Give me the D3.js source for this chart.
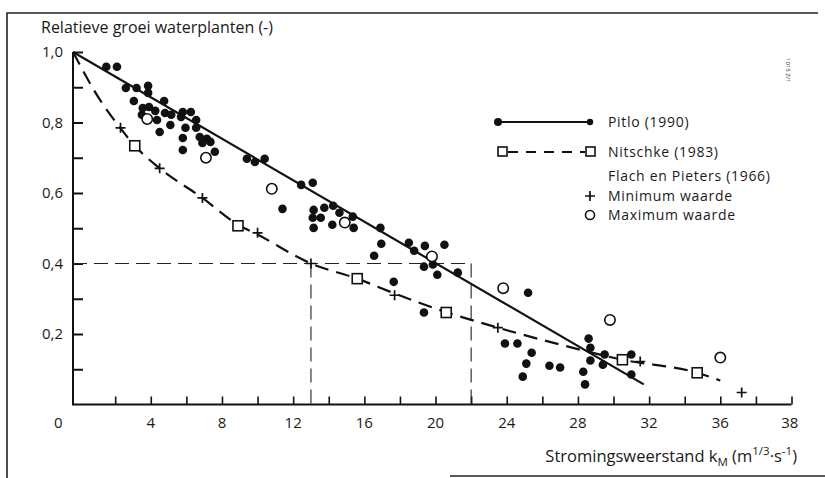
<!DOCTYPE html>
<html>
<head>
<meta charset="utf-8">
<script src="https://cdn.jsdelivr.net/npm/d3@7"></script>
<style>
  body { margin: 0; background: #fff; }
  svg text { font-family: "Open Sans", "Noto Sans", sans-serif; fill: #1a1a1a; }
</style>
</head>
<body>
<div id="chart"></div>
<script>
// Pitlo (1990) meetpunten (k_M, relatieve groei)
const pitloK = [1.5, 2.1, 2.6, 3.2, 3.85, 3.85, 3.05, 4.75, 3.55, 3.9, 4.25, 4.8, 5.15, 5.8, 6.25, 3.5, 4.35, 5.7, 6.55, 5.95,
  4.5, 5.1, 6.55, 5.8, 6.75, 7.15, 5.8, 6.9, 7.35, 7.6, 9.4, 9.85, 10.4, 12.45, 13.1, 11.4, 13.15, 13.75, 14.25, 14.6,
  13.1, 13.55, 14.2, 13.15, 15.35, 15.4, 16.9, 16.95, 16.55, 18.5, 18.8, 19.4, 20.5, 19.35, 19.85, 20.1, 21.25, 17.65, 19.35,
  25.2, 23.9, 24.6, 25.4, 25.1, 24.9, 26.4, 27.0, 28.6, 28.7, 28.7, 28.3, 28.4, 29.5, 29.4, 31.0, 31.0];
const pitloG = [0.958, 0.958, 0.898, 0.898, 0.904, 0.884, 0.861, 0.861, 0.841, 0.844, 0.833, 0.827, 0.822, 0.830, 0.830, 0.822, 0.807, 0.816, 0.807, 0.785,
  0.773, 0.793, 0.785, 0.756, 0.759, 0.754, 0.722, 0.742, 0.745, 0.717, 0.697, 0.688, 0.697, 0.623, 0.629, 0.555, 0.552, 0.558, 0.564, 0.544,
  0.530, 0.530, 0.510, 0.501, 0.533, 0.501, 0.501, 0.456, 0.422, 0.459, 0.436, 0.450, 0.453, 0.391, 0.397, 0.368, 0.374, 0.348, 0.261,
  0.317, 0.173, 0.173, 0.147, 0.116, 0.079, 0.110, 0.105, 0.187, 0.161, 0.125, 0.093, 0.057, 0.142, 0.113, 0.142, 0.085];
// Pitlo regressielijn (begin- en eindpunt)
const pitloLineK = [-0.37, 31.7];
const pitloLineG = [1.0, 0.057];

// Nitschke (1983): curve en blokjes
const nitschkeCurveK = [-0.37, 1.15, 2.2, 3.1, 4.5, 6.9, 8.9, 10.0, 13.0, 15.6, 17.7, 20.6, 23.5, 27.0, 30.5, 34.7, 36.0];
const nitschkeCurveG = [1.0, 0.864, 0.79, 0.734, 0.67, 0.586, 0.51, 0.482, 0.40, 0.357, 0.315, 0.262, 0.218, 0.17, 0.127, 0.09, 0.068];
const nitschkeK = [3.1, 8.9, 15.6, 20.6, 30.5, 34.7];
const nitschkeG = [0.734, 0.507, 0.357, 0.261, 0.127, 0.09];

// Flach en Pieters (1966)
const flachMinK = [2.3, 4.5, 6.9, 10.0, 13.0, 17.7, 23.5, 31.5, 37.2];
const flachMinG = [0.785, 0.67, 0.586, 0.487, 0.40, 0.31, 0.218, 0.122, 0.034];
const flachMaxK = [3.8, 7.1, 10.8, 14.9, 19.8, 23.8, 29.8, 36.0];
const flachMaxG = [0.81, 0.70, 0.612, 0.516, 0.42, 0.33, 0.24, 0.133];

// Hulplijnen bij groei 0,4
const guideG = 0.4;
const guideK = [13, 22];

// As-labels
const yTickValues = [0.1, 0.2, 0.3, 0.4, 0.5, 0.6, 0.7, 0.8, 0.9, 1.0];
const yTickLabels = ["1,0", "0,8", "0,6", "0,4", "0,2"];
const yTickLabelAt = [1.0, 0.8, 0.6, 0.4, 0.2];
const xTickValues = d3.range(2, 41, 2);
const xTickLabels = ["0", "4", "8", "12", "16", "20", "24", "28", "32", "36", "38"];
const xTickLabelAt = [-1.2, 4, 8, 12, 16, 20, 24, 28, 32, 36, 39.9];

const width = 825, height = 478;

const svg = d3.select('#chart')
  .append('svg')
  .attr('width', width)
  .attr('height', height);

const x = d3.scaleLinear().domain([-0.37, 40]).range([73, 791.5]);
const y = d3.scaleLinear().domain([0, 1]).range([404.5, 52]);

// Kader van de figuur (boven, links en een stuk onder)
svg.append('path')
  .attr('d', `M7,478 L7,13 L818,13`)
  .attr('fill', 'none').attr('stroke', '#222').attr('stroke-width', 1.6);
svg.append('line')
  .attr('x1', 450).attr('x2', 825).attr('y1', 476).attr('y2', 476)
  .attr('stroke', '#222').attr('stroke-width', 1.4);

// Assen
svg.append('path')
  .attr('d', `M${x(-0.37)},${y(1)} L${x(-0.37)},${y(0)} L${x(40)},${y(0)}`)
  .attr('fill', 'none').attr('stroke', '#111').attr('stroke-width', 2);

const yAxis = d3.axisRight(y).tickValues(yTickValues).tickSize(10).tickFormat('');
svg.append('g')
  .attr('transform', `translate(${x(-0.37)},0)`)
  .call(yAxis)
  .call(g => g.select('.domain').remove())
  .call(g => g.selectAll('.tick line').attr('stroke', '#111').attr('stroke-width', 2));

const xAxis = d3.axisTop(x).tickValues(xTickValues).tickSize(8).tickFormat('');
svg.append('g')
  .attr('transform', `translate(0,${y(0)})`)
  .call(xAxis)
  .call(g => g.select('.domain').remove())
  .call(g => g.selectAll('.tick line').attr('stroke', '#111').attr('stroke-width', 1.6));

// Y tick labels
svg.selectAll('.ylab')
  .data(yTickLabels)
  .enter().append('text')
  .attr('x', 63)
  .attr('y', (d, i) => y(yTickLabelAt[i]))
  .attr('dy', '0.35em')
  .attr('text-anchor', 'end')
  .style('font-size', '15px')
  .text(d => d);

// X tick labels
svg.selectAll('.xlab')
  .data(xTickLabels)
  .enter().append('text')
  .attr('x', (d, i) => x(xTickLabelAt[i]))
  .attr('y', 428)
  .attr('text-anchor', 'middle')
  .style('font-size', '15px')
  .text(d => d);

// Astitels
svg.append('text')
  .attr('x', 41).attr('y', 33)
  .style('font-size', '16px')
  .text('Relatieve groei waterplanten (-)');

const xt = svg.append('text')
  .attr('x', 797).attr('y', 462)
  .attr('text-anchor', 'end')
  .style('font-size', '16.5px');
xt.append('tspan').text('Stromingsweerstand k');
xt.append('tspan').attr('dy', 4).style('font-size', '11.5px').text('M');
xt.append('tspan').attr('dy', -4).text(' (m');
xt.append('tspan').attr('dy', -7).style('font-size', '11.5px').text('1/3');
xt.append('tspan').attr('dy', 7).text('·s');
xt.append('tspan').attr('dy', -7).style('font-size', '11.5px').text('-1');
xt.append('tspan').attr('dy', 7).text(')');

// kleine verticale code rechtsboven
svg.append('text')
  .attr('transform', 'translate(786,58) rotate(90)')
  .style('font-size', '6px')
  .text('1015 Z/1');

// Hulplijnen (gestreept, dun)
const guide = svg.append('g')
  .attr('fill', 'none').attr('stroke', '#222').attr('stroke-width', 1.1)
  .attr('stroke-dasharray', '14,7');
guide.append('line')
  .attr('x1', x(-0.37)).attr('x2', x(guideK[1]))
  .attr('y1', y(guideG)).attr('y2', y(guideG));
guideK.forEach(k => {
  guide.append('line')
    .attr('x1', x(k)).attr('x2', x(k))
    .attr('y1', y(guideG)).attr('y2', y(0));
});

// Pitlo lijn
svg.append('line')
  .attr('x1', x(pitloLineK[0])).attr('y1', y(pitloLineG[0]))
  .attr('x2', x(pitloLineK[1])).attr('y2', y(pitloLineG[1]))
  .attr('stroke', '#111').attr('stroke-width', 2.2);

// Nitschke curve
const curve = d3.line()
  .x(d => x(d[0]))
  .y(d => y(d[1]))
  .curve(d3.curveMonotoneX);
svg.append('path')
  .datum(nitschkeCurveK.map((k, i) => [k, nitschkeCurveG[i]]))
  .attr('d', curve)
  .attr('fill', 'none').attr('stroke', '#111').attr('stroke-width', 2.2)
  .attr('stroke-dasharray', '14,8');

// Pitlo punten
svg.selectAll('.pitlo')
  .data(pitloK)
  .enter().append('circle')
  .attr('cx', d => x(d))
  .attr('cy', (d, i) => y(pitloG[i]))
  .attr('r', 4.3)
  .attr('fill', '#111');

// Flach maximum (open cirkels)
svg.selectAll('.fmax')
  .data(flachMaxK)
  .enter().append('circle')
  .attr('cx', d => x(d))
  .attr('cy', (d, i) => y(flachMaxG[i]))
  .attr('r', 5.2)
  .attr('fill', '#fff').attr('stroke', '#111').attr('stroke-width', 1.6);

// Nitschke blokjes
svg.selectAll('.nit')
  .data(nitschkeK)
  .enter().append('rect')
  .attr('x', d => x(d) - 5)
  .attr('y', (d, i) => y(nitschkeG[i]) - 5)
  .attr('width', 10).attr('height', 10)
  .attr('fill', '#fff').attr('stroke', '#111').attr('stroke-width', 1.6);

// Flach minimum (plusjes)
svg.selectAll('.fmin')
  .data(flachMinK)
  .enter().append('path')
  .attr('d', (d, i) => {
    const cx = x(d), cy = y(flachMinG[i]);
    return `M${cx - 5},${cy} L${cx + 5},${cy} M${cx},${cy - 5} L${cx},${cy + 5}`;
  })
  .attr('stroke', '#111').attr('stroke-width', 1.7);

// Legenda
const legend = svg.append('g').style('font-size', '14px').style('letter-spacing', '0.7px');
legend.append('line').attr('x1', 498).attr('x2', 590).attr('y1', 122).attr('y2', 122)
  .attr('stroke', '#111').attr('stroke-width', 2);
legend.append('circle').attr('cx', 498).attr('cy', 122).attr('r', 4).attr('fill', '#111');
legend.append('circle').attr('cx', 590).attr('cy', 122).attr('r', 3.2).attr('fill', '#111');
legend.append('text').attr('x', 608).attr('y', 127).text('Pitlo (1990)');

legend.append('line').attr('x1', 508).attr('x2', 585).attr('y1', 152).attr('y2', 152)
  .attr('stroke', '#111').attr('stroke-width', 2).attr('stroke-dasharray', '10,8');
legend.append('rect').attr('x', 498).attr('y', 147).attr('width', 9).attr('height', 9)
  .attr('fill', '#fff').attr('stroke', '#111').attr('stroke-width', 1.6);
legend.append('rect').attr('x', 586).attr('y', 147).attr('width', 9).attr('height', 9)
  .attr('fill', '#fff').attr('stroke', '#111').attr('stroke-width', 1.6);
legend.append('text').attr('x', 608).attr('y', 157).text('Nitschke (1983)');

legend.append('text').attr('x', 608).attr('y', 181).text('Flach en Pieters (1966)');
legend.append('path').attr('d', 'M585,196 L595,196 M590,191 L590,201')
  .attr('stroke', '#111').attr('stroke-width', 1.7);
legend.append('text').attr('x', 608).attr('y', 200.5).text('Minimum waarde');
legend.append('circle').attr('cx', 590).attr('cy', 215).attr('r', 4.5)
  .attr('fill', '#fff').attr('stroke', '#111').attr('stroke-width', 1.6);
legend.append('text').attr('x', 608).attr('y', 220).text('Maximum waarde');
</script>
</body>
</html>
